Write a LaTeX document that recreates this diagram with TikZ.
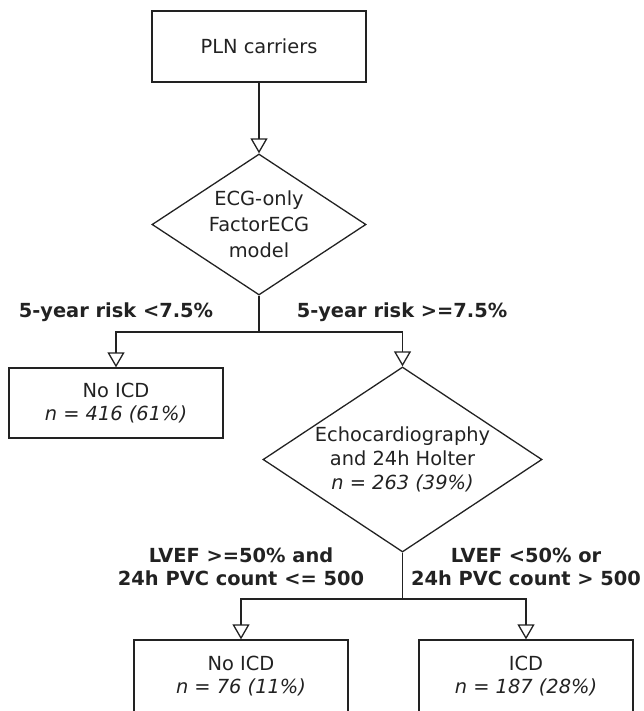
\documentclass[tikz,border=0pt]{standalone}
\usepackage{fontspec}
\setmainfont{DejaVu Sans}
\usetikzlibrary{arrows.meta,shapes.geometric}
\definecolor{ink}{HTML}{222222}
\begin{document}
\begin{tikzpicture}[x=1pt,y=-1pt,
  every node/.style={text=ink,font=\fontsize{19.4}{23}\selectfont},
  box/.style={draw=ink,line width=1.3pt,rectangle,minimum width=214pt,inner sep=0pt,align=center},
  dmd/.style={draw=ink,line width=1.3pt,diamond,inner sep=0pt},
  txt/.style={align=center,inner sep=0pt},
  lbl/.style={align=center,inner sep=0pt,font=\fontsize{19.4}{23}\selectfont\bfseries},
  conn/.style={draw=ink,line width=1.3pt},
  arr/.style={conn,-{Triangle[open,length=15pt,width=17pt]}}]
\useasboundingbox (0,0) rectangle (643,711);
% nodes
\node[box,minimum height=71pt] (pln) at (259,46.5) {PLN carriers};
\node[dmd,minimum width=214pt,minimum height=141pt,shape aspect=1.518] (d1) at (259,224.5) {};
\node[txt,font=\fontsize{19.4}{26}\selectfont] (d1t) at (d1.center) {ECG-only\\FactorECG\\model};
\node[box,minimum height=70pt] (n1) at (116,403) {No ICD\\\textit{n = 416 (61\%)}};
\node[dmd,minimum width=279pt,minimum height=185pt,shape aspect=1.508] (d2) at (402.5,459.5) {};
\node[txt,font=\fontsize{19.4}{24}\selectfont] (d2t) at (d2.center) {Echocardiography\\and 24h Holter\\\textit{n = 263 (39\%)}};
\node[box,minimum height=72pt] (n2) at (241,676) {No ICD\\\textit{n = 76 (11\%)}};
\node[box,minimum height=72pt] (icd) at (526,676) {ICD\\\textit{n = 187 (28\%)}};
% labels
\node[lbl] (l1) at (116,312) {5-year risk <7.5\%};
\node[lbl] (l2) at (402,312) {5-year risk >=7.5\%};
\node[lbl] (l3) at (241,566.5) {LVEF >=50\% and\\24h PVC count <= 500};
\node[lbl] (l4) at (526,566.5) {LVEF <50\% or\\24h PVC count > 500};
% junctions
\coordinate (j1) at (259,332);
\coordinate (j2) at (402.5,599);
% connectors
\draw[arr] (pln.south) -- (d1.north);
\draw[conn] (d1.south) -- (j1);
\draw[arr] (j1) -| (n1.north);
\draw[arr] (j1) -| (d2.north);
\draw[conn] (d2.south) -- (j2);
\draw[arr] (j2) -| (n2.north);
\draw[arr] (j2) -| (icd.north);
\end{tikzpicture}
\end{document}
